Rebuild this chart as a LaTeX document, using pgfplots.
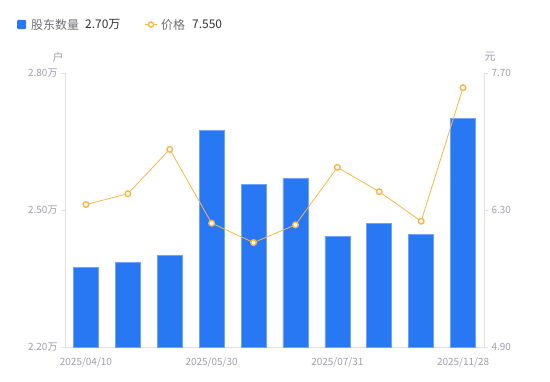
\documentclass[border=0pt]{standalone}
\usepackage{pgfplots}
\pgfplotsset{compat=1.18}
\usepackage{fontspec}
\setmainfont{Noto Sans CJK SC}
\definecolor{barblue}{HTML}{2878F4}
\definecolor{baredge}{HTML}{6FA3F7}
\definecolor{lineorange}{HTML}{F9B648}
\definecolor{axisgray}{HTML}{E0E0E6}
\definecolor{ticktext}{HTML}{9D9DB0}
\definecolor{legtext}{HTML}{6E6E78}
\definecolor{valtext}{HTML}{333333}

\begin{document}
\begin{tikzpicture}[x=1bp,y=1bp]
\useasboundingbox (0,0) rectangle (550,381);
\begin{axis}[
  at={(65bp,34bp)}, anchor=south west,
  width=419bp, height=274bp, scale only axis,
  xmin=-0.5, xmax=9.5, ymin=2.2, ymax=2.8,
  axis x line*=bottom, axis y line*=left,
  axis line style={axisgray, -, line width=0.8bp},
  xtick={0,3,6,9},
  xticklabels={2025/04/10,2025/05/30,2025/07/31,2025/11/28},
  x tick style={draw=none},
  xticklabel style={yshift=-3bp},
  ytick={2.2,2.5,2.8}, yticklabels={2.20万,2.50万,2.80万},
  y tick style={axisgray, line width=0.8bp},
  tick align=outside, major tick length=4bp,
  ticklabel style={font=\fontsize{10}{12}\selectfont, text=ticktext},
  ybar, bar width=25bp,
]
\addplot[fill=barblue, draw=baredge, line width=0.6bp] coordinates {
  (0,2.375) (1,2.386) (2,2.400) (3,2.675) (4,2.556)
  (5,2.570) (6,2.442) (7,2.470) (8,2.447) (9,2.700)
};
\end{axis}
\begin{axis}[
  at={(65bp,34bp)}, anchor=south west,
  width=419bp, height=274bp, scale only axis,
  xmin=-0.5, xmax=9.5, ymin=4.9, ymax=7.7,
  axis x line=none, axis y line*=right,
  axis line style={axisgray, -, line width=0.8bp},
  ytick={4.9,6.3,7.7}, yticklabels={4.90,6.30,7.70},
  y tick style={axisgray, line width=0.8bp},
  tick align=outside, major tick length=4bp,
  ticklabel style={font=\fontsize{10}{12}\selectfont, text=ticktext},
]
\addplot[lineorange, line width=0.8bp, mark=*, mark size=2.8bp,
  mark options={fill=white, draw=lineorange, line width=1.4bp}] coordinates {
  (0,6.356) (1,6.466) (2,6.920) (3,6.165) (4,5.967)
  (5,6.148) (6,6.736) (7,6.487) (8,6.185) (9,7.550)
};
\end{axis}
% legend
\fill[barblue, rounded corners=1bp] (17,352) rectangle (26,361);
\node[anchor=west, inner sep=0, text=legtext, font=\fontsize{12}{14}\selectfont] at (31,356.5) {股东数量};
\node[anchor=west, inner sep=0, text=valtext, font=\fontsize{12}{14}\selectfont] at (85,356.5) {2.70万};
\draw[lineorange, line width=1.2bp] (145,356.5) -- (157,356.5);
\draw[lineorange, fill=white, line width=1.4bp] (151,356.5) circle (2.6);
\node[anchor=west, inner sep=0, text=legtext, font=\fontsize{12}{14}\selectfont] at (161,356.5) {价格};
\node[anchor=west, inner sep=0, text=valtext, font=\fontsize{12}{14}\selectfont] at (192,356.5) {7.550};
% axis titles
\node[text=ticktext, font=\fontsize{11}{13}\selectfont] at (58,324) {户};
\node[text=ticktext, font=\fontsize{11}{13}\selectfont] at (490,324) {元};
\end{tikzpicture}
\end{document}
